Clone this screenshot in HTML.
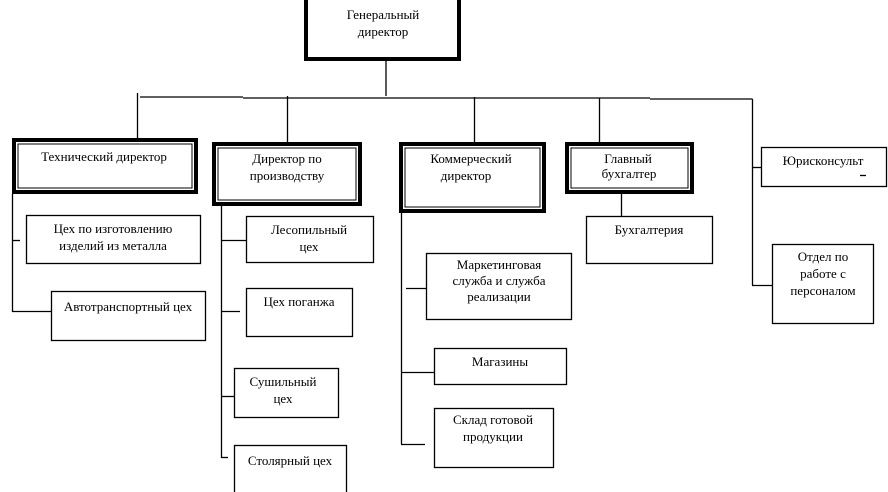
<!DOCTYPE html>
<html><head><meta charset="utf-8"><style>
html,body{margin:0;padding:0;background:#fff;}
svg{display:block;}
text{font-family:"Liberation Serif",serif;font-size:13px;fill:#000;text-anchor:middle;}
</style></head><body>
<svg width="888" height="492" viewBox="0 0 888 492" xmlns="http://www.w3.org/2000/svg">
<g stroke="#000" fill="none">
<!-- general director -->
<rect x="306" y="-2" width="153" height="61" stroke-width="4"/>
<!-- connectors top -->
<line x1="386" y1="61" x2="386" y2="96" stroke-width="1.3"/>
<line x1="140" y1="97" x2="243" y2="97" stroke-width="1.3"/>
<line x1="243" y1="98" x2="650" y2="98" stroke-width="1.3"/>
<line x1="650" y1="99" x2="752.5" y2="99" stroke-width="1.3"/>
<line x1="137.5" y1="93" x2="137.5" y2="138" stroke-width="1.3"/>
<line x1="287.5" y1="96" x2="287.5" y2="142" stroke-width="1.3"/>
<line x1="474.5" y1="97" x2="474.5" y2="142" stroke-width="1.3"/>
<line x1="599.5" y1="98" x2="599.5" y2="142" stroke-width="1.3"/>
<line x1="752.5" y1="99" x2="752.5" y2="285" stroke-width="1.3"/>
<line x1="752" y1="167.5" x2="761" y2="167.5" stroke-width="1.3"/>
<line x1="752" y1="285.5" x2="772" y2="285.5" stroke-width="1.3"/>
<!-- double boxes -->
<rect x="14" y="140" width="182" height="52" stroke-width="4"/>
<rect x="18" y="144" width="174" height="44" stroke-width="1"/>
<rect x="214" y="144" width="146" height="60" stroke-width="4"/>
<rect x="218" y="148" width="138" height="52" stroke-width="1"/>
<rect x="401" y="144" width="143" height="67" stroke-width="4"/>
<rect x="405" y="148" width="135" height="59" stroke-width="1"/>
<rect x="567" y="144" width="125" height="48" stroke-width="4"/>
<rect x="571" y="148" width="117" height="40" stroke-width="1"/>
<!-- thin boxes -->
<g stroke-width="1.3">
<rect x="761.5" y="147.5" width="125" height="39"/>
<rect x="586.5" y="216.5" width="126" height="47"/>
<rect x="772.5" y="244.5" width="101" height="79"/>
<rect x="26.5" y="215.5" width="174" height="48"/>
<rect x="51.5" y="291.5" width="154" height="49"/>
<rect x="246.5" y="216.5" width="127" height="46"/>
<rect x="246.5" y="288.5" width="106" height="48"/>
<rect x="234.5" y="368.5" width="104" height="49"/>
<rect x="234.5" y="445.5" width="112" height="50"/>
<rect x="426.5" y="253.5" width="145" height="66"/>
<rect x="434.5" y="348.5" width="132" height="36"/>
<rect x="434.5" y="408.5" width="119" height="59"/>
<!-- side connectors -->
<line x1="621.5" y1="194" x2="621.5" y2="216"/>
<line x1="12.5" y1="194" x2="12.5" y2="312"/>
<line x1="12" y1="240.5" x2="20" y2="240.5"/>
<line x1="12" y1="311.5" x2="51" y2="311.5"/>
<line x1="221.5" y1="206" x2="221.5" y2="458"/>
<line x1="221" y1="240.5" x2="246" y2="240.5"/>
<line x1="221" y1="311.5" x2="240" y2="311.5"/>
<line x1="221" y1="396.5" x2="234" y2="396.5"/>
<line x1="221" y1="457.5" x2="228" y2="457.5"/>
<line x1="401.5" y1="213" x2="401.5" y2="444"/>
<line x1="406" y1="288.5" x2="426" y2="288.5"/>
<line x1="401" y1="372.5" x2="434" y2="372.5"/>
<line x1="401" y1="444.5" x2="425" y2="444.5"/>
<line x1="860" y1="175.5" x2="866" y2="175.5"/>
</g>
</g>
<text x="383" y="19">Генеральный</text>
<text x="383" y="36">директор</text>
<text x="104" y="161">Технический директор</text>
<text x="287" y="163">Директор по</text>
<text x="287" y="180">производству</text>
<text x="471" y="163">Коммерческий</text>
<text x="466" y="180">директор</text>
<text x="628" y="163">Главный</text>
<text x="629" y="178">бухгалтер</text>
<text x="823" y="165">Юрисконсульт</text>
<text x="649" y="234">Бухгалтерия</text>
<text x="823" y="261">Отдел по</text>
<text x="823" y="278">работе с</text>
<text x="823" y="295">персоналом</text>
<text x="113" y="233">Цех по изготовлению</text>
<text x="113" y="250">изделий из металла</text>
<text x="309" y="234">Лесопильный</text>
<text x="309" y="251">цех</text>
<text x="128" y="311">Автотранспортный цех</text>
<text x="299" y="306">Цех поганжа</text>
<text x="283" y="386">Сушильный</text>
<text x="283" y="403">цех</text>
<text x="290" y="465">Столярный цех</text>
<text x="499" y="269">Маркетинговая</text>
<text x="499" y="285">служба и служба</text>
<text x="499" y="301">реализации</text>
<text x="500" y="366">Магазины</text>
<text x="493" y="424">Склад готовой</text>
<text x="493" y="441">продукции</text>
</svg>
</body></html>
